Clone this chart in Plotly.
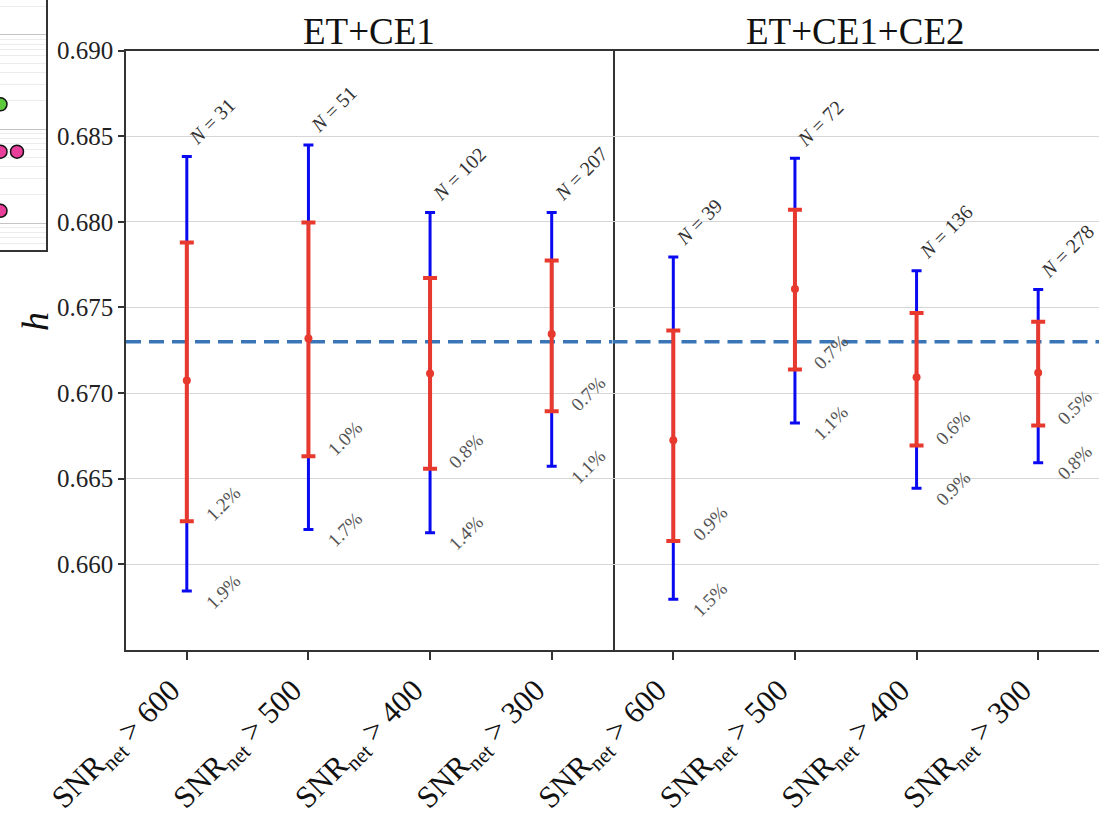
import plotly.graph_objects as go

# ---------------- data ----------------
categories = ["SNR<sub>net</sub> > 600", "SNR<sub>net</sub> > 500",
              "SNR<sub>net</sub> > 400", "SNR<sub>net</sub> > 300"]
panel_titles = ["ET+CE1", "ET+CE1+CE2"]
y_ticks = [0.660, 0.665, 0.670, 0.675, 0.680, 0.685, 0.690]
h_true = 0.673

# ET+CE1
h_med_1 = [0.67073, 0.67318, 0.67114, 0.67345]
lo68_1 = [0.66252, 0.66631, 0.66558, 0.66894]
hi68_1 = [0.67879, 0.67996, 0.67672, 0.67774]
lo95_1 = [0.65844, 0.66204, 0.66185, 0.66573]
hi95_1 = [0.68381, 0.68449, 0.68054, 0.68054]
n_1 = [31, 51, 102, 207]
pct68_1 = ["1.2%", "1.0%", "0.8%", "0.7%"]
pct95_1 = ["1.9%", "1.7%", "1.4%", "1.1%"]

# ET+CE1+CE2
h_med_2 = [0.66725, 0.67608, 0.67092, 0.67118]
lo68_2 = [0.66136, 0.67137, 0.66694, 0.66810]
hi68_2 = [0.67366, 0.68070, 0.67468, 0.67417]
lo95_2 = [0.65796, 0.66826, 0.66445, 0.66593]
hi95_2 = [0.67794, 0.68371, 0.67714, 0.67604]
n_2 = [39, 72, 136, 278]
pct68_2 = ["0.9%", "0.7%", "0.6%", "0.5%"]
pct95_2 = ["1.5%", "1.1%", "0.9%", "0.8%"]

# neighbouring (cropped) panel on the far left
side_x = [0.5, 0.5, 17.0, 0.5]
side_y = [18.3, 5.74, 5.74, 1.35]
side_colors = ["#5cc83c", "#e8409a", "#e8409a", "#e8409a"]

# ---------------- figure ----------------
FONT = "Liberation Serif"
W, H = 1099, 819
fig = go.Figure()

x_idx = list(range(len(categories)))
x_span = [-0.5, len(categories) - 0.5]
panels = [
    (h_med_1, lo68_1, hi68_1, lo95_1, hi95_1, n_1, pct68_1, pct95_1),
    (h_med_2, lo68_2, hi68_2, lo95_2, hi95_2, n_2, pct68_2, pct95_2),
]

for p, (med, l68, u68, l95, u95, ns, p68, p95) in enumerate(panels):
    xa = "x" if p == 0 else "x2"
    ya = "y" if p == 0 else "y2"
    # true value line
    fig.add_trace(go.Scatter(
        x=x_span, y=[h_true, h_true], xaxis=xa, yaxis=ya, mode="lines",
        line=dict(color="#3a76b7", width=3.5, dash="15px,8px"),
        showlegend=False, hoverinfo="skip", cliponaxis=True))
    # 95% (blue)
    fig.add_trace(go.Scatter(
        x=x_idx, y=med, xaxis=xa, yaxis=ya, mode="markers",
        marker=dict(size=1, color="rgba(0,0,0,0)"),
        error_y=dict(type="data", symmetric=False,
                     array=[u - m for u, m in zip(u95, med)],
                     arrayminus=[m - l for l, m in zip(l95, med)],
                     color="#0a0af0", thickness=3, width=5),
        showlegend=False, hoverinfo="skip"))
    # 68% (red)
    fig.add_trace(go.Scatter(
        x=x_idx, y=med, xaxis=xa, yaxis=ya, mode="markers",
        marker=dict(size=8, color="#e8392f"),
        error_y=dict(type="data", symmetric=False,
                     array=[u - m for u, m in zip(u68, med)],
                     arrayminus=[m - l for l, m in zip(l68, med)],
                     color="#e8392f", thickness=4, width=7),
        showlegend=False, hoverinfo="skip"))
    # annotations
    for i in x_idx:
        fig.add_annotation(x=i, y=u95[i], xref=xa, yref=ya,
                           text=f"<i>N</i> = {ns[i]}", showarrow=False,
                           textangle=-45, xanchor="left", yanchor="bottom",
                           xshift=-5, yshift=5,
                           font=dict(family=FONT, size=20, color="#333333"))
        fig.add_annotation(x=i, y=l68[i], xref=xa, yref=ya,
                           text=p68[i], showarrow=False,
                           textangle=-45, xanchor="left", yanchor="middle",
                           xshift=12, yshift=18,
                           font=dict(family=FONT, size=19, color="#555555"))
        fig.add_annotation(x=i, y=l95[i], xref=xa, yref=ya,
                           text=p95[i], showarrow=False,
                           textangle=-45, xanchor="left", yanchor="middle",
                           xshift=12, yshift=0,
                           font=dict(family=FONT, size=19, color="#555555"))

# left cropped panel
fig.add_trace(go.Scatter(
    x=side_x, y=side_y, xaxis="x3", yaxis="y3", mode="markers",
    marker=dict(size=13, color=side_colors,
                line=dict(color="#111111", width=1.5)),
    showlegend=False, hoverinfo="skip"))

# ---------------- layout ----------------
x1_dom = [126 / W, 612.5 / W]
x2_dom = [612.5 / W, 1.0]
y_dom = [1 - 650 / H, 1 - 50.5 / H]

axis_common = dict(showgrid=False, zeroline=False, automargin=False)
yaxis_common = dict(range=[0.655, 0.690], tickvals=y_ticks, showgrid=True,
                    gridcolor="#d6d6d6", gridwidth=1.2, zeroline=False,
                    automargin=False, domain=y_dom)
xaxis_common = dict(range=x_span, tickvals=x_idx, ticktext=categories,
                    tickangle=-45, ticks="outside", ticklen=8, tickwidth=1.5,
                    tickcolor="#333333", showline=True, linecolor="#333333",
                    linewidth=1.5, mirror=True, showgrid=False, zeroline=False,
                    automargin=False, ticklabelshift=-16,
                    tickfont=dict(family=FONT, size=31, color="#111111"))

fig.update_layout(
    width=W, height=H,
    margin=dict(l=0, r=0, t=0, b=0),
    paper_bgcolor="white", plot_bgcolor="white",
    font=dict(family=FONT, color="#111111"),
    xaxis=dict(domain=x1_dom, anchor="y", **xaxis_common),
    xaxis2=dict(domain=x2_dom, anchor="y2", **xaxis_common),
    yaxis=dict(anchor="x", showline=True, linecolor="#333333", linewidth=1.5,
               mirror=True, ticks="outside", ticklen=6, tickwidth=1.5,
               tickcolor="#333333", tickformat=".3f",
               tickfont=dict(family=FONT, size=25, color="#222222"),
               **yaxis_common),
    yaxis2=dict(anchor="x2", matches="y", showline=False, showticklabels=False,
                ticks="", **yaxis_common),
    xaxis3=dict(domain=[0, 46 / W], anchor="y3", range=[0, 46],
                showline=True, linecolor="#333333", linewidth=1.5,
                showticklabels=False, ticks="", **axis_common),
    yaxis3=dict(domain=[1 - 250 / H, 1.0], anchor="x3", type="log",
                range=[-0.287, 2.372], dtick=1, side="right",
                showline=True, linecolor="#333333", linewidth=1.5,
                showticklabels=False, ticks="", showgrid=True,
                gridcolor="#c4c4c4", gridwidth=1.2, zeroline=False,
                automargin=False,
                minor=dict(dtick="D1", showgrid=True, gridcolor="#ececec",
                           gridwidth=1)),
)

# panel titles
for t, dom in zip(panel_titles, [x1_dom, x2_dom]):
    fig.add_annotation(x=(dom[0] + dom[1]) / 2, y=1 - 32 / H, xref="paper",
                       yref="paper", text=t, showarrow=False,
                       xanchor="center", yanchor="middle",
                       font=dict(family=FONT, size=37, color="#111111"))

# y-axis label
fig.add_annotation(x=35 / W, y=1 - 322 / H, xref="paper", yref="paper",
                   text="<i>h</i>", showarrow=False, textangle=-90,
                   xanchor="center", yanchor="middle",
                   font=dict(family=FONT, size=38, color="#111111"))

fig.write_html("out.html")
